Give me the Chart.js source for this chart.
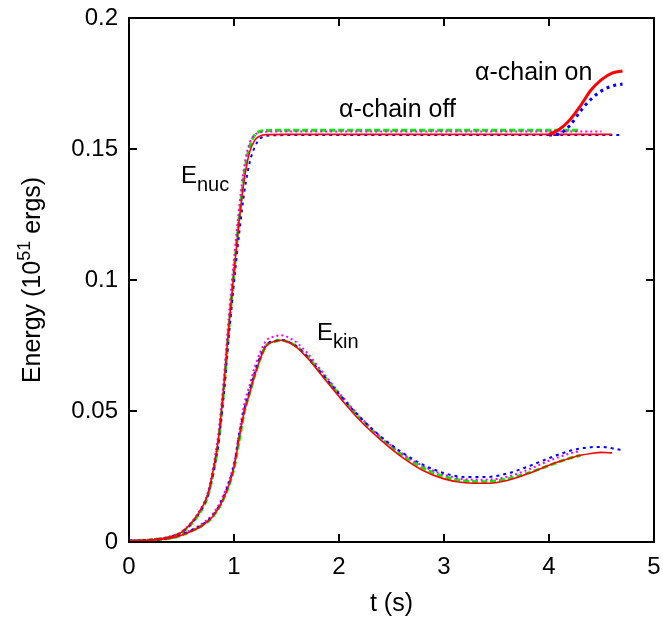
<!DOCTYPE html>
<html>
<head>
<meta charset="utf-8">
<script src="https://cdn.jsdelivr.net/npm/chart.js@4.4.1/dist/chart.umd.min.js"></script>
<style>
  body { margin: 0; background: #fff; }
  canvas { display: block; }
</style>
</head>
<body>
<canvas id="grafico" width="663" height="618"></canvas>
<script>
// tempo (s) para a subida de E_nuc
const tNuc = [0, 0.2, 0.4, 0.5, 0.6, 0.7, 0.75, 0.8, 0.85, 0.9, 0.95, 1.0, 1.05, 1.1, 1.15, 1.2, 1.25, 1.3, 1.5, 2, 3, 4];
const nucRed = [0.0005, 0.0008, 0.002, 0.0037, 0.0075, 0.0135, 0.018, 0.027, 0.039, 0.058, 0.082, 0.103, 0.123, 0.139, 0.149, 0.1535, 0.155, 0.1555, 0.1556, 0.1556, 0.1556, 0.1556];
const nucBlue = [0.0005, 0.0008, 0.002, 0.0036, 0.0073, 0.0132, 0.0176, 0.026, 0.037, 0.055, 0.078, 0.099, 0.118, 0.134, 0.145, 0.151, 0.154, 0.155, 0.1553, 0.1553, 0.1553, 0.1553];
const nucGreen = [0.0005, 0.0008, 0.002, 0.0036, 0.0072, 0.013, 0.0175, 0.026, 0.038, 0.057, 0.081, 0.103, 0.124, 0.141, 0.151, 0.1555, 0.1567, 0.157, 0.1572, 0.1572, 0.1572, 0.1572];
const nucMagenta = [0.0006, 0.0009, 0.0022, 0.0039, 0.0078, 0.014, 0.0188, 0.028, 0.041, 0.061, 0.086, 0.108, 0.128, 0.144, 0.1525, 0.1555, 0.1563, 0.1566, 0.1567, 0.1567, 0.1567, 0.1567];
// fim de cada curva alpha-chain off: [t, E]
const fimRed = [4.6, 0.1556];
const fimBlue = [4.7, 0.1553];
const fimGreen = [4.3, 0.1572];
const fimMagenta = [4.5, 0.1567];

// alpha-chain on
const tOn = [4.0, 4.1, 4.2, 4.3, 4.4, 4.5, 4.6, 4.7];
const onRed = [0.1556, 0.1575, 0.1612, 0.1665, 0.1725, 0.1765, 0.179, 0.1798];
const onBlue = [0.1553, 0.1558, 0.159, 0.1645, 0.169, 0.1722, 0.174, 0.1748];

// E_kin
const tKin = [0, 0.2, 0.4, 0.5, 0.6, 0.7, 0.8, 0.9, 1.0, 1.05, 1.1, 1.15, 1.2, 1.3, 1.4, 1.45, 1.5, 1.6, 1.7, 1.8, 1.9, 2.0, 2.2, 2.4, 2.6, 2.8, 3.0, 3.2, 3.4, 3.6, 3.8, 4.0, 4.1, 4.2, 4.3, 4.4, 4.5, 4.6, 4.7];
const kinRed = [0.0003, 0.0006, 0.0015, 0.0026, 0.0042, 0.0063, 0.0098, 0.0165, 0.0285, 0.040, 0.050, 0.057, 0.064, 0.0745, 0.0767, 0.077, 0.0765, 0.0742, 0.0702, 0.0654, 0.0604, 0.0555, 0.0464, 0.0389, 0.0324, 0.0273, 0.0241, 0.0226, 0.0224, 0.0235, 0.0261, 0.0293, 0.0307, 0.032, 0.0331, 0.0338, 0.0342, 0.034];
const kinBlue = [0.0003, 0.0006, 0.0016, 0.0028, 0.0045, 0.0067, 0.0103, 0.0172, 0.0293, 0.041, 0.051, 0.058, 0.065, 0.0748, 0.0768, 0.0771, 0.0767, 0.0745, 0.0707, 0.066, 0.0612, 0.0565, 0.0476, 0.0402, 0.0342, 0.0295, 0.0263, 0.0248, 0.0248, 0.0261, 0.0288, 0.032, 0.0335, 0.0348, 0.0357, 0.0362, 0.0363, 0.0358, 0.035];
const kinGreen = [0.0003, 0.0006, 0.0015, 0.0026, 0.0043, 0.0064, 0.0098, 0.0165, 0.0282, 0.039, 0.050, 0.057, 0.064, 0.0745, 0.0767, 0.077, 0.0766, 0.0745, 0.0707, 0.066, 0.0612, 0.0563, 0.0472, 0.0395, 0.0333, 0.0283, 0.025, 0.0233, 0.023, 0.024, 0.0263, 0.0292, 0.0307, 0.032, 0.0331];
const kinMagenta = [0.0004, 0.0007, 0.0018, 0.003, 0.0048, 0.0071, 0.0108, 0.018, 0.0303, 0.042, 0.053, 0.060, 0.067, 0.0765, 0.0786, 0.0789, 0.0784, 0.076, 0.072, 0.067, 0.062, 0.057, 0.0478, 0.04, 0.0338, 0.029, 0.0257, 0.024, 0.0238, 0.0249, 0.0276, 0.031, 0.0325, 0.0338, 0.0348];

const xTicks = [0, 1, 2, 3, 4, 5];
const yTicks = [0, 0.05, 0.1, 0.15, 0.2];

const fonte = "'Liberation Sans', Arial, sans-serif";

function pontos(t, v, fim) {
  const lista = [];
  for (let i = 0; i < v.length; i++) {
    lista.push({ x: t[i], y: v[i] });
  }
  if (fim) lista.push({ x: fim[0], y: fim[1] });
  return lista;
}

const estilos = {
  red: { cor: "#ff0000", largura: 1.6, dash: [] },
  blue: { cor: "#0000ff", largura: 2, dash: [3, 4] },
  green: { cor: "#00ee00", largura: 3, dash: [6, 3] },
  magenta: { cor: "#ff00ff", largura: 2, dash: [2, 3] },
};

function serie(dados, estilo, largura) {
  return {
    data: dados,
    borderColor: estilo.cor,
    borderWidth: largura || estilo.largura,
    borderDash: estilo.dash,
    pointRadius: 0,
    fill: false,
    cubicInterpolationMode: "monotone",
  };
}

// primeiro dataset fica por cima
const datasets = [
  serie(pontos(tOn, onRed), estilos.red, 3),
  serie(pontos(tOn, onBlue), estilos.blue, 3),
  serie(pontos(tNuc, nucRed, fimRed), estilos.red),
  serie(pontos(tKin, kinRed), estilos.red),
  serie(pontos(tNuc, nucBlue, fimBlue), estilos.blue),
  serie(pontos(tKin, kinBlue), estilos.blue),
  serie(pontos(tNuc, nucMagenta, fimMagenta), estilos.magenta),
  serie(pontos(tKin, kinMagenta), estilos.magenta),
  serie(pontos(tNuc, nucGreen, fimGreen), estilos.green),
  serie(pontos(tKin, kinGreen), estilos.green),
];

// moldura, ticks para dentro e textos
const moldura = {
  id: "moldura",
  afterDatasetsDraw(chart) {
    const c = chart.ctx;
    const area = chart.chartArea;
    const sx = chart.scales.x;
    const sy = chart.scales.y;
    const tam = 8;
    c.save();
    c.strokeStyle = "#000";
    c.lineWidth = 2;
    c.setLineDash([]);
    c.beginPath();
    xTicks.forEach((v) => {
      const px = sx.getPixelForValue(v);
      c.moveTo(px, area.bottom);
      c.lineTo(px, area.bottom - tam);
      c.moveTo(px, area.top);
      c.lineTo(px, area.top + tam);
    });
    yTicks.forEach((v) => {
      const py = sy.getPixelForValue(v);
      c.moveTo(area.left, py);
      c.lineTo(area.left + tam, py);
      c.moveTo(area.right, py);
      c.lineTo(area.right - tam, py);
    });
    c.stroke();
    c.strokeRect(area.left, area.top, area.right - area.left, area.bottom - area.top);

    c.fillStyle = "#000";
    c.textBaseline = "alphabetic";
    c.textAlign = "left";

    // E_nuc e E_kin
    c.font = "24px " + fonte;
    c.fillText("E", 181, 183);
    c.fillText("E", 317, 340);
    c.font = "20px " + fonte;
    c.fillText("nuc", 197, 191);
    c.fillText("kin", 333, 348);

    c.font = "25px " + fonte;
    c.fillText("\u03b1-chain off", 339, 117);
    c.fillText("\u03b1-chain on", 475, 80);

    // titulo do eixo x
    c.textAlign = "center";
    c.font = "25px " + fonte;
    c.fillText("t (s)", (area.left + area.right) / 2, 611);

    // titulo do eixo y com expoente
    c.translate(40, (area.top + area.bottom) / 2);
    c.rotate(-Math.PI / 2);
    c.textAlign = "left";
    const p1 = "Energy (10";
    const p2 = "51";
    const p3 = " ergs)";
    c.font = "25px " + fonte;
    const w1 = c.measureText(p1).width;
    const w3 = c.measureText(p3).width;
    c.font = "18px " + fonte;
    const w2 = c.measureText(p2).width;
    let x0 = -(w1 + w2 + w3) / 2;
    c.font = "25px " + fonte;
    c.fillText(p1, x0, 0);
    c.font = "18px " + fonte;
    c.fillText(p2, x0 + w1, -10);
    c.font = "25px " + fonte;
    c.fillText(p3, x0 + w1 + w2, 0);
    c.restore();
  },
};

const myGrafico = new Chart(document.querySelector("#grafico"), {
  type: "line",
  data: { datasets: datasets },
  plugins: [moldura],
  options: {
    responsive: false,
    animation: false,
    devicePixelRatio: 1,
    layout: { padding: { left: 0, right: 9, top: 18, bottom: 0 } },
    plugins: { legend: { display: false }, tooltip: { enabled: false } },
    scales: {
      x: {
        type: "linear",
        min: 0,
        max: 5,
        afterFit(scale) {
          scale.height = 76;
          scale.paddingLeft = 0;
          scale.paddingRight = 0;
        },
        afterBuildTicks(scale) {
          scale.ticks = xTicks.map((v) => ({ value: v }));
        },
        grid: { display: false, drawTicks: false },
        border: { display: false },
        ticks: {
          padding: 11,
          color: "#000",
          font: { family: fonte, size: 24 },
          maxRotation: 0,
        },
      },
      y: {
        type: "linear",
        min: 0,
        max: 0.2,
        afterFit(scale) {
          scale.width = 129;
          scale.paddingTop = 0;
          scale.paddingBottom = 0;
        },
        afterBuildTicks(scale) {
          scale.ticks = yTicks.map((v) => ({ value: v }));
        },
        grid: { display: false, drawTicks: false },
        border: { display: false },
        ticks: {
          padding: 11,
          color: "#000",
          font: { family: fonte, size: 24 },
          callback: (v) => String(v),
        },
      },
    },
  },
});
</script>
</body>
</html>
